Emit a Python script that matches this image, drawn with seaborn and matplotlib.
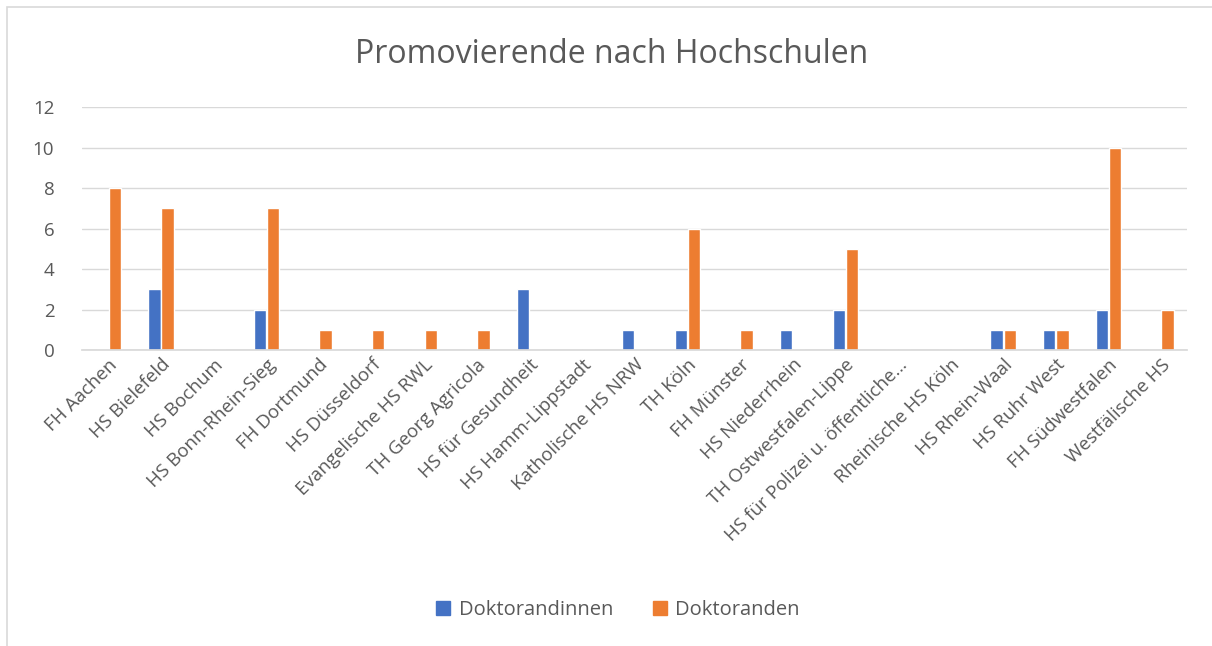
import matplotlib
matplotlib.use("Agg")
import matplotlib.pyplot as plt
import seaborn as sns
import pandas as pd
from matplotlib.patches import Rectangle

hochschulen = [
    "FH Aachen", "HS Bielefeld", "HS Bochum", "HS Bonn-Rhein-Sieg", "FH Dortmund",
    "HS Düsseldorf", "Evangelische HS RWL", "TH Georg Agricola", "HS für Gesundheit",
    "HS Hamm-Lippstadt", "Katholische HS NRW", "TH Köln", "FH Münster",
    "HS Niederrhein", "TH Ostwestfalen-Lippe", "HS für Polizei u. öffentliche…",
    "Rheinische HS Köln", "HS Rhein-Waal", "HS Ruhr West", "FH Südwestfalen",
    "Westfälische HS",
]
doktorandinnen = [0, 3, 0, 2, 0, 0, 0, 0, 3, 0, 1, 1, 0, 1, 2, 0, 0, 1, 1, 2, 0]
doktoranden = [8, 7, 0, 7, 1, 1, 1, 1, 0, 0, 0, 6, 1, 0, 5, 0, 0, 1, 1, 10, 2]

df = pd.DataFrame({
    "Hochschule": hochschulen * 2,
    "Anzahl": doktorandinnen + doktoranden,
    "Gruppe": ["Doktorandinnen"] * len(hochschulen) + ["Doktoranden"] * len(hochschulen),
})

sns.set_theme(style="white")
plt.rcParams["font.family"] = ["Open Sans", "DejaVu Sans"]
grey = "#595959"
farben = ["#4472C4", "#ED7D31"]

fig = plt.figure(figsize=(12.12, 6.46), dpi=100)
ax = fig.add_axes([0.0677, 0.458, 0.912, 0.376])

sns.barplot(data=df, x="Hochschule", y="Anzahl", hue="Gruppe",
            palette=farben, saturation=1, width=0.5, gap=0.06,
            ax=ax, legend=False)

ax.set_ylim(0, 12)
ax.set_yticks(range(0, 13, 2))
ax.set_xlim(-0.5, len(hochschulen) - 0.5)
ax.yaxis.grid(True, color="#D9D9D9", linewidth=1)
ax.set_axisbelow(True)
for s in ["top", "right", "left"]:
    ax.spines[s].set_visible(False)
ax.spines["bottom"].set_color("#D9D9D9")
ax.set_xlabel("")
ax.set_ylabel("")
ax.tick_params(axis="y", length=0, labelsize=13.5, labelcolor=grey, pad=20)
ax.tick_params(axis="x", length=0, labelsize=13.5, labelcolor=grey, pad=4)
plt.setp(ax.get_xticklabels(), rotation=45, ha="right", rotation_mode="anchor")

fig.text(0.505, 0.915, "Promovierende nach Hochschulen", ha="center", va="center",
         fontsize=23, color=grey)

handles = [Rectangle((0, 0), 1, 1, color=c) for c in farben]
fig.legend(handles, ["Doktorandinnen", "Doktoranden"], loc="center",
           bbox_to_anchor=(0.51, 0.055), ncol=2, frameon=False, fontsize=14.5,
           labelcolor=grey, handlelength=0.7, handleheight=0.7, handletextpad=0.4,
           columnspacing=2.0)

fig.patches.append(Rectangle((7 / 1212, -0.01), 1.0, 1 - 7 / 646 + 0.01,
                             transform=fig.transFigure, fill=False,
                             edgecolor="#D9D9D9", linewidth=1.2))

fig.savefig("out.png", dpi=100, facecolor="white")
